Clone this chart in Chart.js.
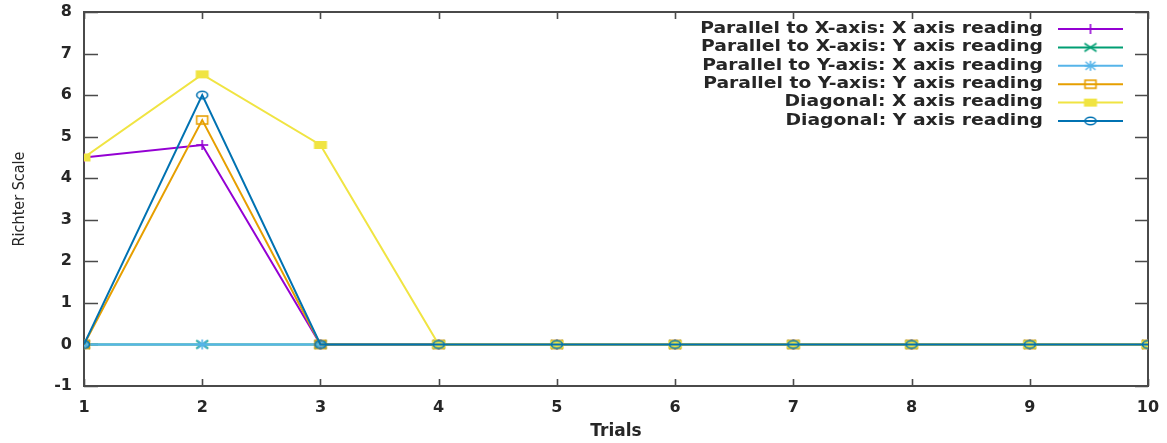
<!DOCTYPE html>
<html>
<head>
<meta charset="utf-8">
<script src="https://cdn.jsdelivr.net/npm/chart.js@4/dist/chart.umd.min.js"></script>
<style>
  html, body { margin: 0; padding: 0; background: #ffffff; }
  #wrap { width: 1167px; height: 443px; }
</style>
</head>
<body>
<div id="wrap"><canvas id="c" width="1167" height="443"></canvas></div>
<script>
// ---- data ----
const trials = [1, 2, 3, 4, 5, 6, 7, 8, 9, 10];
const seriesLabels = [
  "Parallel to X-axis: X axis reading",
  "Parallel to X-axis: Y axis reading",
  "Parallel to Y-axis: X axis reading",
  "Parallel to Y-axis: Y axis reading",
  "Diagonal: X axis reading",
  "Diagonal: Y axis reading"
];
const parXReadX = [4.5, 4.8, 0, 0, 0, 0, 0, 0, 0, 0];
const parXReadY = [0, 0, 0, 0, 0, 0, 0, 0, 0, 0];
const parYReadX = [0, 0, 0, 0, 0, 0, 0, 0, 0, 0];
const parYReadY = [0, 5.4, 0, 0, 0, 0, 0, 0, 0, 0];
const diagReadX = [4.5, 6.5, 4.8, 0, 0, 0, 0, 0, 0, 0];
const diagReadY = [0, 6, 0, 0, 0, 0, 0, 0, 0, 0];
const yTickValues = [-1, 0, 1, 2, 3, 4, 5, 6, 7, 8];
const xTickValues = [1, 2, 3, 4, 5, 6, 7, 8, 9, 10];

// ---- styles ----
const colors = ["#9400d3", "#009e73", "#56b4e9", "#e69f00", "#f0e442", "#0072b2"];
const markerKinds = ["plus", "cross", "star", "openRect", "fillRect", "ellipse"];
const TEXT = "#262626";
const BORDER = "#4a4a4a";

function makeMarker(kind, color) {
  const c = document.createElement("canvas");
  c.width = 16; c.height = 12;
  const g = c.getContext("2d");
  g.strokeStyle = color; g.fillStyle = color; g.lineWidth = 1.6;
  const cx = 8, cy = 6;
  function line(x1, y1, x2, y2) { g.beginPath(); g.moveTo(x1, y1); g.lineTo(x2, y2); g.stroke(); }
  if (kind === "plus") { line(cx - 6, cy, cx + 6, cy); line(cx, cy - 5, cx, cy + 5); }
  else if (kind === "cross") { line(cx - 6, cy - 4, cx + 6, cy + 4); line(cx - 6, cy + 4, cx + 6, cy - 4); }
  else if (kind === "star") {
    line(cx - 6, cy, cx + 6, cy); line(cx, cy - 5, cx, cy + 5);
    line(cx - 5, cy - 4, cx + 5, cy + 4); line(cx - 5, cy + 4, cx + 5, cy - 4);
  }
  else if (kind === "openRect") { g.strokeRect(cx - 5.5, cy - 4, 11, 8); }
  else if (kind === "fillRect") { g.fillRect(cx - 6.5, cy - 4, 13, 8); }
  else if (kind === "ellipse") { g.beginPath(); g.ellipse(cx, cy, 5.5, 3.8, 0, 0, Math.PI * 2); g.stroke(); }
  return c;
}
const markers = markerKinds.map((k, i) => makeMarker(k, colors[i]));

const seriesValues = [parXReadX, parXReadY, parYReadX, parYReadY, diagReadX, diagReadY];
const datasets = seriesValues.map((vals, i) => ({
  label: seriesLabels[i],
  data: trials.map((t, j) => ({ x: t, y: vals[j] })),
  borderColor: colors[i],
  backgroundColor: colors[i],
  borderWidth: 2,
  pointStyle: markers[i],
  pointRadius: 6,
  tension: 0,
  order: seriesValues.length - 1 - i
}));

// box with inward (mirrored) ticks, drawn under the data like gnuplot
const framePlugin = {
  id: "frame",
  beforeDatasetsDraw(chart) {
    const { ctx, chartArea: a, scales } = chart;
    ctx.save();
    ctx.strokeStyle = BORDER;
    ctx.lineWidth = 1.6;
    ctx.beginPath();
    yTickValues.forEach(v => {
      const y = Math.round(scales.y.getPixelForValue(v)) + 0.5;
      ctx.moveTo(a.left, y); ctx.lineTo(a.left + 14, y);
      ctx.moveTo(a.right, y); ctx.lineTo(a.right - 13, y);
    });
    xTickValues.forEach(v => {
      const x = Math.round(scales.x.getPixelForValue(v)) + 0.5;
      ctx.moveTo(x, a.bottom); ctx.lineTo(x, a.bottom - 7);
      ctx.moveTo(x, a.top); ctx.lineTo(x, a.top + 7);
    });
    ctx.stroke();
    ctx.lineWidth = 2;
    ctx.strokeRect(a.left, a.top, a.right - a.left, a.bottom - a.top);
    ctx.restore();
  }
};

// gnuplot-style key: right-aligned text, sample line with marker to its right
const keyPlugin = {
  id: "key",
  afterDraw(chart) {
    const { ctx } = chart;
    const textRight = 1043, lineL = 1058, lineR = 1123, y0 = 29, dy = 18.4;
    const stretch = 1.25;
    ctx.save();
    ctx.font = "bold 15px 'DejaVu Sans'";
    ctx.textBaseline = "middle";
    chart.data.datasets.forEach((ds, i) => {
      const y = y0 + i * dy;
      ctx.save();
      ctx.translate(textRight, y);
      ctx.scale(stretch, 1);
      ctx.textAlign = "right";
      ctx.fillStyle = TEXT;
      ctx.fillText(ds.label, 0, 0);
      ctx.restore();
      ctx.strokeStyle = ds.borderColor;
      ctx.lineWidth = 2;
      ctx.beginPath(); ctx.moveTo(lineL, y); ctx.lineTo(lineR, y); ctx.stroke();
      const m = ds.pointStyle;
      ctx.drawImage(m, (lineL + lineR) / 2 - m.width / 2, y - m.height / 2);
    });
    ctx.restore();
  }
};

new Chart(document.getElementById("c"), {
  type: "line",
  data: { datasets },
  options: {
    responsive: false,
    animation: false,
    layout: { padding: { top: 12, right: 19, bottom: 0, left: 0 } },
    plugins: { legend: { display: false }, tooltip: { enabled: false } },
    scales: {
      x: {
        type: "linear",
        min: 1, max: 10,
        afterFit(s) { s.height = 57; s.paddingLeft = 0; s.paddingRight = 0; },
        afterBuildTicks(s) { s.ticks = xTickValues.map(v => ({ value: v })); },
        grid: { display: false, drawTicks: false },
        border: { display: false },
        ticks: { color: TEXT, padding: 12, font: { family: "DejaVu Sans", size: 16, weight: "bold" } },
        title: {
          display: true, text: "Trials", color: TEXT,
          padding: { top: 0, bottom: 1 },
          font: { family: "DejaVu Sans", size: 17, weight: "bold" }
        }
      },
      y: {
        type: "linear",
        min: -1, max: 8,
        afterFit(s) { s.width = 84; s.paddingTop = 0; s.paddingBottom = 0; },
        afterBuildTicks(s) { s.ticks = yTickValues.map(v => ({ value: v })); },
        grid: { display: false, drawTicks: false },
        border: { display: false },
        ticks: { color: TEXT, padding: 12, font: { family: "DejaVu Sans", size: 16, weight: "bold" } },
        title: {
          display: true, text: "Richter Scale", color: TEXT,
          padding: { top: 10, bottom: 0 },
          font: { family: "'Liberation Sans Narrow', 'DejaVu Sans Condensed', 'Liberation Sans'", size: 16 }
        }
      }
    }
  },
  plugins: [framePlugin, keyPlugin]
});
</script>
</body>
</html>
